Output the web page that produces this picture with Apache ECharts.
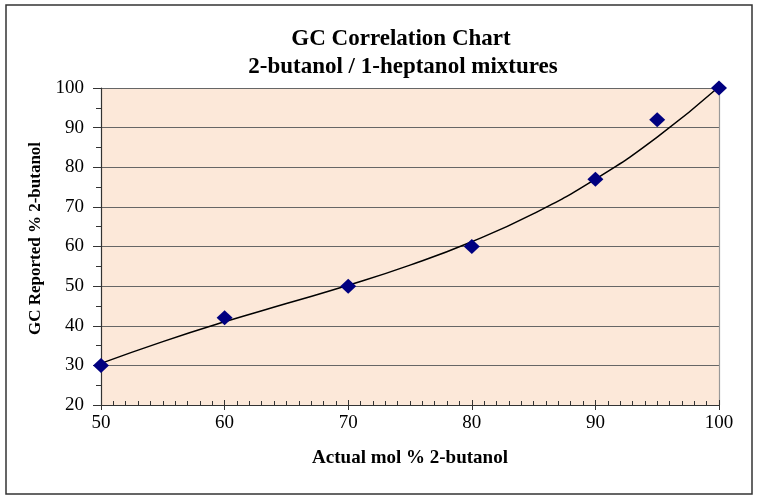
<!DOCTYPE html>
<html>
<head>
<meta charset="utf-8">
<script src="https://cdn.jsdelivr.net/npm/echarts@6/dist/echarts.min.js"></script>
<style>
  html, body { margin: 0; padding: 0; background: #fff; }
  #chart { width: 757px; height: 498px; }
</style>
</head>
<body>
<div id="chart"></div>
<script>
// measured points
var actualMol = [50, 60, 70, 80, 90, 95, 100];
var gcReported = [30, 42, 50, 60, 77, 92, 100];

// trend line
var trendX = [50, 55, 60, 65, 70, 75, 80, 85, 90, 95, 100];
var trendY = [30.5, 36.0, 41.0, 45.6, 50.2, 55.3, 61.2, 68.3, 77.0, 87.6, 100.3];

var titleLines = ['GC Correlation Chart', '2-butanol / 1-heptanol mixtures'];

var serif = 'Liberation Serif';

var chart = echarts.init(document.getElementById('chart'), null, { renderer: 'canvas' });

var option = {
    backgroundColor: '#fff',
    animation: false,
    graphic: [{
        type: 'rect',
        shape: { x: 6, y: 5, width: 746, height: 489 },
        style: { fill: null, stroke: '#333', lineWidth: 1.5 },
        z: 100
    }, {
        type: 'text',
        style: {
            text: titleLines[0], x: 401, y: 39, align: 'center', verticalAlign: 'middle',
            font: 'bold 23px "Liberation Serif"', fill: '#000'
        }
    }, {
        type: 'text',
        style: {
            text: titleLines[1], x: 403, y: 67, align: 'center', verticalAlign: 'middle',
            font: 'bold 23px "Liberation Serif"', fill: '#000'
        }
    }],
    grid: { left: 101, right: 38, top: 88, bottom: 93, show: true, backgroundColor: '#fce8d9', borderWidth: 0 },
    xAxis: [{
        type: 'value',
        min: 50, max: 100, interval: 10,
        name: 'Actual mol % 2-butanol',
        nameLocation: 'middle',
        nameGap: 44,
        nameTextStyle: { fontFamily: serif, fontWeight: 'bold', fontSize: 19, color: '#000' },
        axisLine: { lineStyle: { color: '#333', width: 1.2 } },
        axisTick: { show: true, inside: false, length: 5, lineStyle: { color: '#333' } },
        axisLabel: { fontFamily: serif, fontSize: 19, color: '#000', margin: 9 },
        splitLine: { show: false }
    }, {
        type: 'value',
        position: 'bottom',
        min: 50, max: 100, interval: 10,
        axisLine: { show: false },
        axisTick: { show: true, inside: true, length: 5, lineStyle: { color: '#333' } },
        minorTick: { show: true, splitNumber: 10, length: 4, lineStyle: { color: '#333' } },
        axisLabel: { show: false },
        splitLine: { show: false }
    }],
    yAxis: [{
        type: 'value',
        min: 20, max: 100, interval: 10,
        name: 'GC Reported % 2-butanol',
        nameLocation: 'middle',
        nameRotate: 90,
        nameGap: 51,
        nameTextStyle: { fontFamily: serif, fontWeight: 'bold', fontSize: 17, color: '#000', padding: [0, 0, 0, 16] },
        axisLine: { show: true, lineStyle: { color: '#333', width: 1.2 } },
        axisTick: { show: true, inside: false, length: 8, lineStyle: { color: '#333' } },
        minorTick: { show: true, splitNumber: 2, length: 5, lineStyle: { color: '#333' } },
        axisLabel: { fontFamily: serif, fontSize: 19, color: '#000', margin: 17 },
        splitLine: { show: true, lineStyle: { color: '#666', width: 1 } }
    }, {
        type: 'value',
        position: 'right',
        min: 20, max: 100, interval: 10,
        axisLine: { show: true, lineStyle: { color: '#999', width: 1.2 } },
        axisTick: { show: false },
        axisLabel: { show: false },
        splitLine: { show: false }
    }],
    series: [{
        name: 'trend',
        type: 'line',
        data: trendX.map(function (x, i) { return [x, trendY[i]]; }),
        smooth: true,
        symbol: 'none',
        lineStyle: { color: '#000', width: 1.5 },
        z: 2
    }, {
        name: 'GC',
        type: 'scatter',
        data: actualMol.map(function (x, i) { return [x, gcReported[i]]; }),
        symbol: 'diamond',
        symbolSize: [16, 15],
        itemStyle: { color: '#000080', opacity: 1 },
        z: 3
    }]
};

chart.setOption(option);
</script>
</body>
</html>
